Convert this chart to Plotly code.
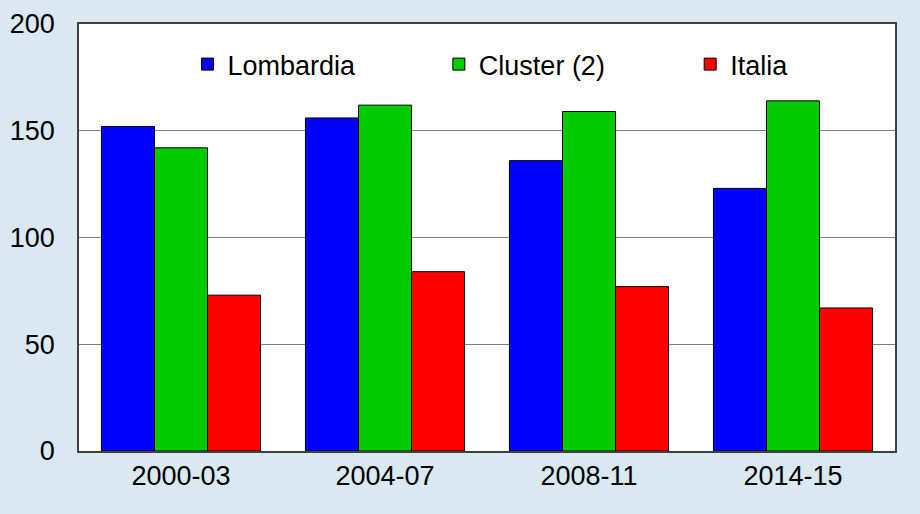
import plotly.graph_objects as go

categories = ["2000-03", "2004-07", "2008-11", "2014-15"]
lombardia = [152, 156, 136, 123]
cluster = [142, 162, 159, 164]
italia = [73, 84, 77, 67]
y_ticks = [0, 50, 100, 150, 200]

FONT = "Liberation Sans, Arial, sans-serif"
FS = 27

fig = go.Figure()
series = [("Lombardia", lombardia, "#0000FF", "legend"),
          ("Cluster (2)", cluster, "#00CC00", "legend2"),
          ("Italia", italia, "#FF0000", "legend3")]
for name, vals, col, lg in series:
    fig.add_trace(go.Bar(x=categories, y=vals, name=name, legend=lg, showlegend=True,
                         marker=dict(color=col, line=dict(color="black", width=1))))

def leg(xpos):
    return dict(orientation="h", bgcolor="rgba(0,0,0,0)", yanchor="middle", y=0.905,
                xanchor="left", x=xpos, font=dict(family=FONT, size=FS, color="black"),
                itemwidth=30, visible=True)

fig.update_layout(
    width=920, height=514,
    paper_bgcolor="#DAE9F1", plot_bgcolor="white",
    margin=dict(l=79, r=25, t=24, b=63),
    bargap=0.22, bargroupgap=0,
    barmode="group",
    showlegend=True,
    font=dict(family=FONT, size=FS, color="black"),
    legend=leg(0.133),
    legend2=leg(0.441),
    legend3=leg(0.749),
    xaxis=dict(type="category", showline=True, linecolor="#404040", linewidth=1.5,
               mirror=True, ticks="", tickfont=dict(size=FS), ticklabelstandoff=0,
               automargin=False),
    yaxis=dict(range=[0, 200], tickvals=y_ticks, showgrid=True, gridcolor="#808080",
               gridwidth=1, showline=True, linecolor="#404040", linewidth=1.5, mirror=True,
               ticks="", tickfont=dict(size=FS), ticklabelstandoff=17, zeroline=False,
               automargin=False),
)
fig.write_html("out.html", config={"displayModeBar": False},
               post_script="document.body.style.margin='0';")
